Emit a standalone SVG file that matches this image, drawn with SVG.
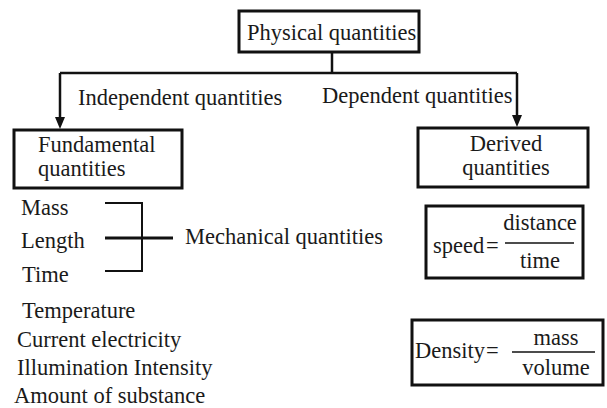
<svg xmlns="http://www.w3.org/2000/svg" width="607" height="408" viewBox="0 0 607 408">
<style>
text{font-family:"Liberation Serif","Times New Roman","DejaVu Serif",serif;font-size:22.5px;fill:#1a1a1a}
.box{fill:#fff;stroke:#111;stroke-width:3}
.ln{stroke:#111;stroke-width:2.5;fill:none}
.br{stroke:#111;stroke-width:2;fill:none}
.head{fill:#111}
.c{text-anchor:middle}
</style>
<g font-family="Liberation Serif, Times New Roman, serif">
<g id="connectors">
<line class="ln" x1="332" y1="52" x2="332" y2="73"/>
<line class="ln" x1="60" y1="73" x2="517" y2="73"/>
<path class="ln" d="M60,73 V117"/>
<path class="head" d="M55,117 L65,117 L60,129 Z"/>
<path class="ln" d="M517,73 V115"/>
<path class="head" d="M512,115 L522,115 L517,127 Z"/>
<path class="br" d="M105,203 H142 V271 H105"/>
<line x1="105" y1="238" x2="173" y2="238" stroke="#111" stroke-width="3"/>
</g>
<g id="physical">
<rect class="box" x="239" y="11" width="180" height="41"/>
<text x="247" y="40">Physical quantities</text>
</g>
<g id="labels">
<text x="78" y="105">Independent quantities</text>
<text x="322" y="103">Dependent quantities</text>
</g>
<g id="fundamental">
<rect class="box" x="14" y="130" width="168" height="58"/>
<text x="38" y="152">Fundamental</text>
<text x="38" y="176">quantities</text>
</g>
<g id="derived">
<rect class="box" x="418" y="128" width="170" height="59"/>
<text class="c" x="506" y="151">Derived</text>
<text class="c" x="506" y="175">quantities</text>
</g>
<g id="fund-list">
<text x="21" y="215">Mass</text>
<text x="21" y="248">Length</text>
<text x="22" y="282">Time</text>
<text x="185" y="244">Mechanical quantities</text>
<text x="22" y="318">Temperature</text>
<text x="17" y="347">Current electricity</text>
<text x="17" y="375">Illumination Intensity</text>
<text x="14" y="403">Amount of substance</text>
</g>
<g id="speed">
<rect class="box" x="426" y="206" width="157" height="72"/>
<text x="433" y="253">speed</text>
<text x="486" y="253">=</text>
<line x1="505" y1="243" x2="574" y2="243" stroke="#111" stroke-width="1.5"/>
<text class="c" x="540" y="230">distance</text>
<text class="c" x="540" y="268">time</text>
</g>
<g id="density">
<rect class="box" x="412" y="320" width="191" height="65"/>
<text x="415" y="358">Density</text>
<text x="486" y="358">=</text>
<line x1="512" y1="352" x2="595" y2="352" stroke="#111" stroke-width="1.5"/>
<text class="c" x="556" y="345">mass</text>
<text class="c" x="556" y="375">volume</text>
</g>
</g>
</svg>
